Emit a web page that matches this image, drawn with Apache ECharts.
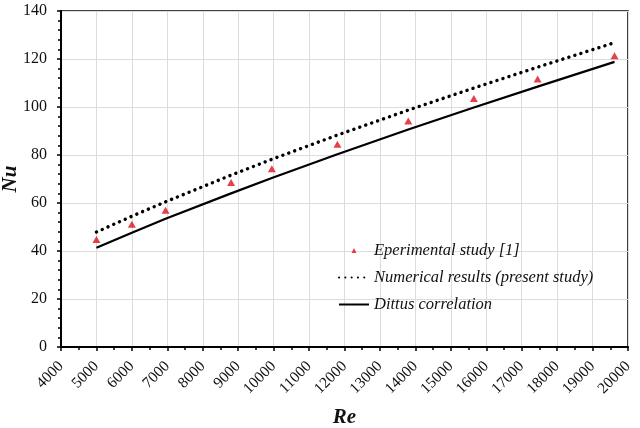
<!DOCTYPE html>
<html>
<head>
<meta charset="utf-8">
<script src="https://cdn.jsdelivr.net/npm/echarts@6/dist/echarts.min.js"></script>
<style>
html,body{margin:0;padding:0;background:#fff;}
#chart{width:640px;height:428px;}
</style>
</head>
<body>
<div id="chart"></div>
<script>
// Experimental data (triangles)
var expRe = [5000, 6000, 6950, 8800, 9950, 11800, 13800, 15650, 17450, 19620];
var expNu = [44.8, 51.1, 57.0, 68.5, 74.3, 84.5, 94.2, 103.5, 111.7, 121.4];

// Numerical results (dotted line)
var numRe = [5000, 6000, 6950, 8800, 9950, 11800, 13800, 15650, 17450, 19620];
var numNu = [47.9, 54.5, 60.5, 71.6, 78.2, 88.3, 98.7, 107.9, 116.6, 126.8];

// Dittus correlation (solid line)
var dittusRe = [5000, 6000, 6950, 8800, 9950, 11800, 13800, 15650, 17450, 19620];
var dittusNu = [41.4, 47.6, 53.4, 64.0, 70.4, 80.3, 90.6, 99.8, 108.5, 118.8];

var seriesNames = ['Eperimental study [1]', 'Numerical results (present study)', 'Dittus correlation'];

function pairs(xs, ys) {
  return xs.map(function (x, i) { return [x, ys[i]]; });
}

var FONT = '"Liberation Serif", "Times New Roman", serif';
var chart = echarts.init(document.getElementById('chart'), null, {renderer: 'canvas'});

chart.setOption({
  backgroundColor: '#ffffff',
  animation: false,
  grid: {
    left: 61, right: 12, top: 11, bottom: 81,
    containLabel: false,
    outerBoundsMode: 'none',
    show: true, borderColor: '#000', borderWidth: 1.5, backgroundColor: 'transparent'
  },
  legend: {
    orient: 'vertical',
    left: 338,
    top: 242,
    padding: 0,
    itemWidth: 30,
    itemHeight: 14,
    itemGap: 10,
    textStyle: {fontFamily: FONT, fontStyle: 'italic', fontSize: 16.5, color: '#111'},
    data: [
      {name: seriesNames[0], icon: 'path://M0,0M30,14M12.5,9.4L17.5,9.4L15,4.6Z'},
      {name: seriesNames[1], itemStyle: {opacity: 0}},
      {name: seriesNames[2], itemStyle: {opacity: 0}}
    ]
  },
  xAxis: {
    type: 'value',
    min: 4000, max: 20000, interval: 1000,
    name: 'Re',
    nameLocation: 'middle',
    nameGap: 60,
    nameMoveOverlap: false,
    nameTextStyle: {fontFamily: FONT, fontStyle: 'italic', fontWeight: 'bold', fontSize: 21, color: '#111'},
    axisLine: {show: true, lineStyle: {color: '#000', width: 2}},
    axisTick: {show: true, length: 4, lineStyle: {color: '#000', width: 1.5}},
    minorTick: {show: true, splitNumber: 2, length: 3, lineStyle: {color: '#000', width: 1.5}},
    axisLabel: {rotate: 45, fontFamily: FONT, fontSize: 15.5, color: '#111', margin: 17,
      formatter: function (v) { return String(v); }},
    splitLine: {show: true, lineStyle: {color: '#dcdcdc', width: 1}}
  },
  yAxis: {
    type: 'value',
    min: 0, max: 140, interval: 20,
    name: 'Nu',
    nameLocation: 'middle',
    nameGap: 40,
    nameMoveOverlap: false,
    nameTextStyle: {fontFamily: FONT, fontStyle: 'italic', fontWeight: 'bold', fontSize: 21, color: '#111'},
    axisLine: {show: true, lineStyle: {color: '#000', width: 2}},
    axisTick: {show: true, length: 4, lineStyle: {color: '#000', width: 1.5}},
    minorTick: {show: true, splitNumber: 5, length: 3, lineStyle: {color: '#000', width: 1.5}},
    axisLabel: {fontFamily: FONT, fontSize: 16, color: '#111', margin: 14,
      formatter: function (v) { return String(v); }},
    splitLine: {show: true, lineStyle: {color: '#dcdcdc', width: 1}}
  },
  series: [
    {
      name: seriesNames[0],
      type: 'scatter',
      symbol: 'triangle',
      symbolSize: [8, 7],
      itemStyle: {color: '#e0101a'},
      data: pairs(expRe, expNu),
      z: 5
    },
    {
      name: seriesNames[1],
      type: 'line',
      symbol: 'none',
      showSymbol: false,
      color: '#000',
      lineStyle: {color: '#000', width: 3.4, type: [0.1, 6.2], cap: 'round'},
      data: pairs(numRe, numNu),
      z: 3
    },
    {
      name: seriesNames[2],
      type: 'line',
      symbol: 'none',
      showSymbol: false,
      color: '#000',
      lineStyle: {color: '#000', width: 2.2, type: 'solid'},
      data: pairs(dittusRe, dittusNu),
      z: 3
    }
  ]
});
</script>
</body>
</html>
